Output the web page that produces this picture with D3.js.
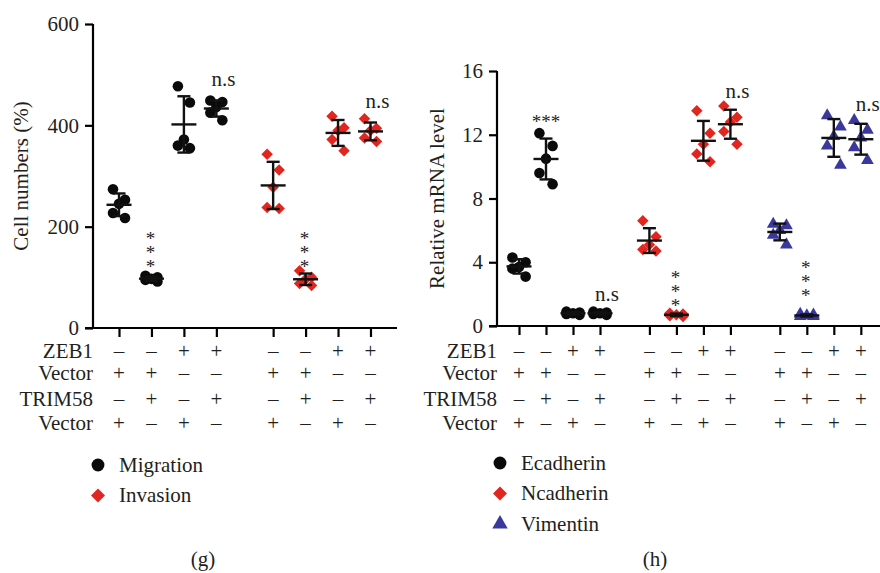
<!DOCTYPE html>
<meta charset="utf-8">
<script src="https://d3js.org/d3.v7.min.js"></script>
<style>
  body { margin: 0; background: #fff; }
  text { font-family: "Liberation Serif", "DejaVu Serif", serif; fill: #231f20; }
  text.vstars { writing-mode: vertical-rl; text-orientation: upright; letter-spacing: -7px; }
</style>
<div id="chart"></div>
<script>

// ---- data ----
// panel g : cell numbers (%), 5 replicates per condition
var migration = [[274, 253, 245, 227, 217], [103, 100, 97, 95, 92], [477, 445, 372, 360, 355], [449, 446, 436, 425, 410]];
var invasion  = [[343, 312, 278, 238, 236], [113, 100, 96, 88, 84], [418, 395, 390, 372, 350], [413, 394, 390, 375, 368]];

// panel h : relative mRNA level
var ecadherin = [[4.3, 4.0, 3.7, 3.6, 3.1], [12.1, 11.3, 10.5, 9.6, 8.9], [0.9, 0.85, 0.8, 0.75, 0.7], [0.9, 0.85, 0.8, 0.75, 0.7]];
var ncadherin = [[6.6, 5.6, 5.1, 4.8, 4.7], [0.8, 0.75, 0.7, 0.65, 0.6], [13.5, 12.1, 11.4, 10.8, 10.3], [13.8, 13.1, 12.8, 12.2, 11.4]];
var vimentin  = [[6.4, 6.3, 6.0, 5.7, 5.1], [0.75, 0.7, 0.65, 0.6, 0.6], [13.2, 12.5, 11.9, 11.3, 10.1], [12.9, 12.3, 11.8, 11.2, 10.4]];

// condition table under the axis (one block of 4 conditions)
var rowLabels = ["ZEB1", "Vector", "TRIM58", "Vector"];
var rowSigns = [
  ["\u2013", "\u2013", "+", "+"],
  ["+", "+", "\u2013", "\u2013"],
  ["\u2013", "+", "\u2013", "+"],
  ["+", "\u2013", "+", "\u2013"]
];

var ticksG = [0, 200, 400, 600];
var ticksH = [0, 4, 8, 12, 16];

// significance labels: [series, condition, label, level]
var notesG = [[0, 1, "***", 135], [0, 3, "n.s", 478], [1, 1, "***", 135], [1, 3, "n.s", 434]];
var notesH = [[0, 1, "***h", 12.9], [0, 3, "n.s", 1.6], [1, 1, "***", 1.7], [1, 3, "n.s", 14.3], [2, 1, "***", 2.35], [2, 3, "n.s", 13.5]];

var legendG = ["Migration", "Invasion"];
var legendH = ["Ecadherin", "Ncadherin", "Vimentin"];

// ---- styles ----
var colors = ["#0a0a0a", "#e0261f", "#3a389c"];
var jitter = [-6, 6, 0, -6, 6];
var fs = "21px";

var svg = d3.select("#chart").append("svg")
  .attr("width", 880)
  .attr("height", 573);

function symbolPath(k, size) {
  if (k == 0) return d3.symbol().type(d3.symbolCircle).size(size)();
  if (k == 1) return d3.symbol().type(d3.symbolSquare).size(size * 0.75)();
  return d3.symbol().type(d3.symbolTriangle).size(size * 0.8)();
}

function panel(opt) {
  var g = svg.append("g");
  var x = d3.scaleLinear().domain([0, 1]).range([opt.x0, opt.x0 + opt.step]);
  var y = d3.scaleLinear().domain(opt.domain).range([opt.bottom, opt.top]);
  var slot = function(s, c) { return x(s * (4 + opt.gap) + c); };

  // y axis
  g.append("g")
    .attr("transform", "translate(" + opt.axisX + ",0)")
    .call(d3.axisLeft(y).tickValues(opt.ticks).tickSize(8).tickPadding(6).tickFormat(d3.format("d")))
    .call(function(a) {
      a.select(".domain").attr("stroke-width", 2.2).attr("d", "M0," + opt.bottom + "V" + opt.top);
      a.selectAll(".tick line").attr("stroke-width", 2.2);
      a.selectAll(".tick text").style("font-size", fs).style("font-family", "Liberation Serif").attr("fill", "#231f20");
    });

  // x axis: baseline + one tick per condition
  var slots = [];
  opt.series.forEach(function(s, si) { for (var c = 0; c < 4; c++) slots.push(si * (4 + opt.gap) + c); });
  g.append("g")
    .attr("transform", "translate(0," + opt.bottom + ")")
    .call(d3.axisBottom(x).tickValues(slots).tickSize(9).tickFormat(""))
    .call(function(a) {
      a.select(".domain").attr("stroke-width", 2.2).attr("d", "M" + (opt.axisX - 8) + ",0H" + opt.axisEnd);
      a.selectAll(".tick line").attr("stroke-width", 2.2);
    });

  // y label
  g.append("text")
    .attr("transform", "translate(" + opt.labelX + "," + ((opt.top + opt.bottom) / 2) + ")rotate(-90)")
    .attr("text-anchor", "middle")
    .style("font-size", fs)
    .text(opt.ylabel);

  // points + mean/SD bars
  opt.series.forEach(function(series, si) {
    series.forEach(function(vals, c) {
      var cx = slot(si, c);
      var sorted = vals.slice().sort(d3.descending);
      g.selectAll(null).data(sorted).enter().append("path")
        .attr("d", symbolPath(si, 88))
        .attr("transform", function(d, i) {
          return "translate(" + (cx + jitter[i] * opt.jit) + "," + y(d) + ")" + (si == 1 ? "rotate(45)" : "");
        })
        .attr("fill", colors[si]);

      var m = d3.mean(vals), sd = d3.deviation(vals);
      var eb = g.append("g").attr("stroke", "#111").attr("stroke-width", 2.4).attr("fill", "none");
      eb.append("line").attr("x1", cx - 12.5).attr("x2", cx + 12.5).attr("y1", y(m)).attr("y2", y(m));
      eb.append("line").attr("x1", cx).attr("x2", cx).attr("y1", y(m + sd)).attr("y2", y(m - sd));
      eb.append("line").attr("x1", cx - 6.5).attr("x2", cx + 6.5).attr("y1", y(m + sd)).attr("y2", y(m + sd));
      eb.append("line").attr("x1", cx - 6.5).attr("x2", cx + 6.5).attr("y1", y(m - sd)).attr("y2", y(m - sd));
    });
  });

  // significance marks
  opt.notes.forEach(function(n) {
    var cx = slot(n[0], n[1]);
    if (n[2] == "n.s") {
      g.append("text").attr("x", cx + 7).attr("y", y(n[3]))
        .attr("text-anchor", "middle").style("font-size", fs).text("n.s");
    } else if (n[2] == "***h") {
      g.append("text").attr("x", cx).attr("y", y(n[3]) + 8)
        .attr("text-anchor", "middle").style("font-size", "19px").attr("fill", "#555").text("***");
    } else {
      g.append("text").attr("class", "vstars")
        .attr("x", cx - 1).attr("y", y(n[3]) - 32)
        .style("font-size", "19px").attr("fill", "#555").text("***");
    }
  });

  // condition table
  var rowY = [358, 380, 406, 430];
  rowLabels.forEach(function(lab, r) {
    g.append("text").attr("x", opt.axisX).attr("y", rowY[r])
      .attr("text-anchor", "end").style("font-size", fs).text(lab);
    opt.series.forEach(function(s, si) {
      rowSigns[r].forEach(function(sign, c) {
        g.append("text").attr("x", slot(si, c)).attr("y", rowY[r])
          .attr("text-anchor", "middle").style("font-size", fs).text(sign);
      });
    });
  });

  // legend
  opt.legend.forEach(function(name, i) {
    var ly = opt.legendY + i * 30.5;
    g.append("path").attr("d", symbolPath(i, 130))
      .attr("transform", "translate(" + opt.legendX + "," + ly + ")" + (i == 1 ? "rotate(45)" : ""))
      .attr("fill", colors[i]);
    g.append("text").attr("x", opt.legendX + 21).attr("y", ly + 6.5)
      .style("font-size", fs).text(name);
  });

  // panel caption
  g.append("text").attr("x", opt.captionX).attr("y", 566)
    .attr("text-anchor", "middle").style("font-size", fs).text(opt.caption);
}

panel({
  series: [migration, invasion], domain: [0, 600], ticks: ticksG,
  top: 24, bottom: 328, axisX: 93, axisEnd: 397,
  x0: 119, step: 32.45, gap: 0.75, jit: 1,
  ylabel: "Cell numbers (%)", labelX: 28,
  notes: notesG, legend: legendG, legendX: 98, legendY: 465,
  caption: "(g)", captionX: 203
});

panel({
  series: [ecadherin, ncadherin, vimentin], domain: [0, 16], ticks: ticksH,
  top: 71, bottom: 326, axisX: 497, axisEnd: 880,
  x0: 519, step: 27.0, gap: 0.83, jit: 1.1,
  ylabel: "Relative mRNA level", labelX: 444,
  notes: notesH, legend: legendH, legendX: 500, legendY: 463,
  caption: "(h)", captionX: 655
});

</script>
